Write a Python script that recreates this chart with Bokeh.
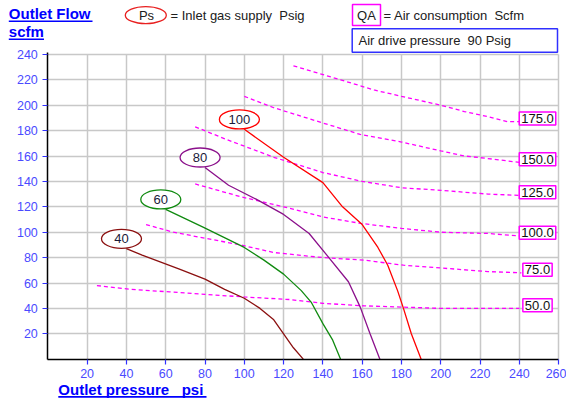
import numpy as np
from bokeh.plotting import figure
from bokeh.models import Range1d, Label, BoxAnnotation, LinearAxis, FixedTicker, Grid
from bokeh.core.properties import value
from bokeh.embed import file_html
from bokeh.resources import INLINE

# ---------------- data ----------------
inlet_ps = [40, 60, 80, 100]          # inlet gas supply, psig
flow_40_x = [40, 48, 67, 80, 90, 100, 108, 115, 120, 125, 130]
flow_40_y = [87, 82, 71, 63, 55, 48, 40, 31, 20, 9, 0]
flow_60_x = [60, 79, 100, 110, 120, 129, 134, 140, 145, 149]
flow_60_y = [118, 104, 88, 78, 67, 54, 45, 28, 15, 0]
flow_80_x = [80, 92, 106, 120, 133, 142, 153, 159, 164, 169]
flow_80_y = [151, 137, 126, 114, 99, 82, 61, 41, 20, 0]
flow_100_x = [100, 120, 140, 150, 160, 168, 173, 178, 181, 185, 190]
flow_100_y = [181, 159, 139, 120, 106, 88, 74, 54, 40, 20, 0]

qa_values = [175, 150, 125, 100, 75, 50]  # air consumption, scfm
qa_175_x = [125, 149, 166, 180, 200, 212, 224, 234, 240]
qa_175_y = [231, 220, 212, 207, 200, 195, 191, 187, 187]
qa_150_x = [100, 115, 140, 159, 180, 200, 212, 224, 240]
qa_150_y = [207, 198, 186, 177, 171, 164, 160, 158, 155]
qa_125_x = [75, 91, 115, 140, 160, 180, 200, 224, 240]
qa_125_y = [183, 173, 159, 147, 140, 135, 133, 130, 129]
qa_100_x = [75, 98, 120, 140, 159, 180, 200, 224, 240]
qa_100_y = [138, 128, 120, 112, 107, 103, 100, 99, 97]
qa_75_x = [50, 64, 81, 98, 115, 140, 161, 181, 207, 224, 241]
qa_75_y = [106, 100, 95, 90, 84, 80, 78, 74, 71, 69, 68]
qa_50_x = [25, 42, 62, 80, 100, 123, 140, 161, 181, 200, 224, 240]
qa_50_y = [58, 55, 53, 51, 49, 47, 44, 42, 41, 40, 40, 40]

x_ticks = list(range(20, 261, 20))
y_ticks = list(range(20, 241, 20))
x_max, y_max = 260, 240

# ---------------- layout (canvas pixels) ----------------
W, H = 566, 402
X_ORIGIN, SX = 47.3, 1.965      # canvas x of x=0, px per psi
Y_ORIGIN, SY = 358.7, 1.27      # canvas y of y=0, px per scfm


def dx(cx):
    return (cx - X_ORIGIN) / SX


def dy(cy):
    return (Y_ORIGIN - cy) / SY


FONT = "Liberation Sans"
BLUE = "#0000FF"
NB = "\u00a0"

p = figure(width=W, height=H, x_range=Range1d(dx(0), dx(W)), y_range=Range1d(dy(H), dy(0)),
           output_backend="svg", toolbar_location=None,
           x_axis_location=None, y_axis_location=None,
           min_border_left=0, min_border_right=0, min_border_top=0, min_border_bottom=0,
           background_fill_color="white", border_fill_color="white")
p.outline_line_color = None
p.center = [r for r in p.center if not isinstance(r, Grid)]

GRID_COLOR = "#C8C8C8"
if "cross_bounds" in Grid.properties():
    gx = Grid(dimension=0, ticker=FixedTicker(ticks=x_ticks), cross_bounds=(0, y_max),
              grid_line_color=GRID_COLOR, grid_line_width=1.5)
    gy = Grid(dimension=1, ticker=FixedTicker(ticks=y_ticks), cross_bounds=(0, x_max),
              grid_line_color=GRID_COLOR, grid_line_width=1.5)
    p.add_layout(gx)
    p.add_layout(gy)
else:
    for side, ticks, length in (("below", x_ticks, y_max * SY), ("left", y_ticks, x_max * SX)):
        ga = LinearAxis(fixed_location=0, ticker=FixedTicker(ticks=ticks),
                        major_tick_in=int(round(length)), major_tick_out=0,
                        major_tick_line_color=GRID_COLOR, major_tick_line_width=1.5,
                        minor_tick_line_color=None, axis_line_color=None,
                        major_label_overrides={t: "" for t in ticks})
        p.add_layout(ga, side)

for side, ticks, bounds in (("below", x_ticks, (0, x_max)), ("left", y_ticks, (0, y_max + 1.5))):
    ax = LinearAxis(fixed_location=0, ticker=FixedTicker(ticks=ticks), bounds=bounds)
    ax.axis_line_color = "black"
    ax.axis_line_width = 1.5
    ax.major_tick_line_color = "#3030FF"
    ax.major_tick_line_width = 1.2
    ax.major_tick_out = 5
    ax.major_tick_in = 0
    ax.minor_tick_line_color = None
    ax.major_label_text_color = "#4A4AFF"
    ax.major_label_text_font = FONT
    ax.major_label_text_font_size = "12.5px"
    ax.major_label_standoff = 5
    p.add_layout(ax, side)

# ---------------- QA (air consumption) dashed lines ----------------
qa_series = [(qa_175_x, qa_175_y), (qa_150_x, qa_150_y), (qa_125_x, qa_125_y),
             (qa_100_x, qa_100_y), (qa_75_x, qa_75_y), (qa_50_x, qa_50_y)]
for xs, ys in qa_series:
    p.line(xs, ys, line_color="#FF00FF", line_width=1.3, line_dash="4 3")

# ---------------- flow curves ----------------
flow_series = [(flow_40_x, flow_40_y, "#8B1010"), (flow_60_x, flow_60_y, "#108A10"),
               (flow_80_x, flow_80_y, "#8B108B"), (flow_100_x, flow_100_y, "#FF0000")]
for (xs, ys, col), ps in zip(flow_series, inlet_ps):
    p.line(xs, ys, line_color=col, line_width=1.3)
    cx, cy = xs[0] - 2.5, ys[0] + 7.8
    p.ellipse(x=[cx], y=[cy], width=40 / SX, height=19 / SY, fill_color="white",
              line_color=col, line_width=1.3)
    p.text(x=[cx], y=[cy], text=[str(ps)], text_align="center", text_baseline="middle",
           text_font=value(FONT), text_font_size="13px", text_color="#1A1A3A")

# QA value boxes
for (xs, ys), qa in zip(qa_series, qa_values):
    p.add_layout(Label(x=dx(537), y=ys[-1] + 2.5, text=f"{qa:.1f}", text_align="center",
                       text_baseline="middle", text_font=FONT, text_font_size="13px",
                       text_color="#111111", background_fill_color="white",
                       border_line_color="#FF00FF", border_line_width=1.5, padding=2))


# ---------------- titles & legend ----------------
def label(cx, cy, text, baseline="middle", align="left", size="13px", color="#202020", bold=False):
    p.add_layout(Label(x=dx(cx), y=dy(cy), text=text, text_align=align, text_baseline=baseline,
                       text_font=FONT, text_font_size=size, text_color=color,
                       text_font_style="bold" if bold else "normal"))


def box(c_left, c_right, c_top, c_bottom, fill="white", line=None, lw=1.5):
    p.add_layout(BoxAnnotation(left=dx(c_left), right=dx(c_right), top=dy(c_top),
                               bottom=dy(c_bottom), fill_color=fill, fill_alpha=1.0,
                               line_color=line, line_width=lw, line_alpha=1.0))


label(8.3, 12.6, "Outlet Flow", size="15px", color=BLUE, bold=True)
box(8.3, 92, 20.0, 21.6, fill=BLUE)
label(8.3, 30.6, "scfm", size="15px", color=BLUE, bold=True)
box(8.3, 43.5, 37.9, 39.5, fill=BLUE)

label(57.8, 388.5, "Outlet pressure " + NB + NB + "psi", size="15px", color=BLUE, bold=True)
box(57.8, 206, 395.6, 397.2, fill=BLUE)

# Ps legend ellipse
p.ellipse(x=[dx(145.3)], y=[dy(14.7)], width=41 / SX, height=17 / SY, fill_color="white",
          line_color="#E82020", line_width=1.3)
label(146, 14.7, "Ps", align="center")
label(170, 14.7, "= Inlet gas supply " + NB + "Psig")

# QA legend box
box(352, 380, 4.0, 25.0, fill="white", line="#FF00FF")
label(366, 15.0, "QA", align="center")
label(383, 14.7, "= Air consumption " + NB + "Scfm")

# Air drive pressure box
box(351.7, 557, 28.3, 51.7, fill="white", line="#3030FF")
label(358, 40.2, "Air drive pressure " + NB + "90 Psig")

open("out.html", "w").write(file_html(p, INLINE))
